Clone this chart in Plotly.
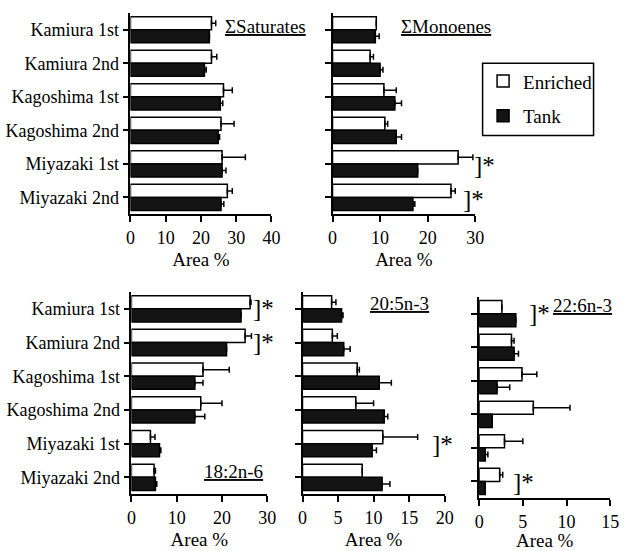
import plotly.graph_objects as go

W, H = 627, 551
FONT = "'Liberation Serif', 'Times New Roman', serif"

categories = ["Kamiura 1st", "Kamiura 2nd", "Kagoshima 1st", "Kagoshima 2nd", "Miyazaki 1st", "Miyazaki 2nd"]
series_names = ["Enriched", "Tank"]

# ΣSaturates
sat_enriched = [23.0, 23.0, 26.4, 25.7, 26.0, 27.5]
sat_enriched_err = [1.2, 1.5, 2.5, 3.7, 6.6, 1.4]
sat_tank = [22.4, 21.0, 25.5, 24.9, 26.0, 25.7]
sat_tank_err = [0.0, 0.5, 0.7, 0.4, 1.1, 0.8]

# ΣMonoenes
mono_enriched = [9.2, 7.9, 10.8, 11.0, 26.4, 24.9]
mono_enriched_err = [0.0, 0.7, 2.6, 0.6, 3.1, 0.9]
mono_tank = [9.0, 10.0, 13.1, 13.4, 17.9, 16.9]
mono_tank_err = [0.8, 0.6, 1.4, 1.1, 0.0, 0.4]

# 18:2n-6
la_enriched = [26.2, 25.1, 15.8, 15.3, 4.2, 5.0]
la_enriched_err = [0.2, 1.4, 5.8, 4.7, 1.0, 0.3]
la_tank = [24.2, 21.0, 14.0, 14.0, 6.2, 5.3]
la_tank_err = [0.0, 0.0, 1.8, 2.2, 0.3, 0.3]

# 20:5n-3
epa_enriched = [4.1, 4.2, 7.7, 7.5, 11.3, 8.4]
epa_enriched_err = [0.6, 0.7, 0.3, 2.5, 4.9, 0.0]
epa_tank = [5.5, 5.8, 10.8, 11.5, 9.8, 11.2]
epa_tank_err = [0.2, 0.9, 1.7, 0.5, 0.6, 1.1]

# 22:6n-3
dha_enriched = [2.6, 3.7, 4.9, 6.2, 2.9, 2.35]
dha_enriched_err = [0.0, 0.3, 1.7, 4.2, 2.1, 0.35]
dha_tank = [4.2, 4.0, 2.05, 1.5, 0.7, 0.7]
dha_tank_err = [0.0, 0.5, 1.45, 0.0, 0.3, 0.0]

panel_titles = ["ΣSaturates", "ΣMonoenes", "18:2n-6", "20:5n-3", "22:6n-3"]
x_ranges = [[0, 40], [0, 30], [0, 30], [0, 20], [0, 15]]
x_dticks = [10, 10, 10, 5, 5]
x_title = "Area %"

panels = [
    (sat_enriched, sat_enriched_err, sat_tank, sat_tank_err),
    (mono_enriched, mono_enriched_err, mono_tank, mono_tank_err),
    (la_enriched, la_enriched_err, la_tank, la_tank_err),
    (epa_enriched, epa_enriched_err, epa_tank, epa_tank_err),
    (dha_enriched, dha_enriched_err, dha_tank, dha_tank_err),
]

# layout (pixel boxes of each panel: left, right, top, bottom)
boxes = [
    (128.3, 272.5, 13, 215),
    (335, 481, 13, 215),
    (129.3, 268.3, 293, 496),
    (304.3, 449.7, 293, 496),
    (485, 619, 298, 500),
]


def px(x):
    return x / W


def py(y):
    return 1 - y / H


fig = go.Figure()
for i, (e, ee, t, te) in enumerate(panels):
    n = i + 1
    xa = "x" if n == 1 else f"x{n}"
    ya = "y" if n == 1 else f"y{n}"
    for name, vals, errs, fill in [("Enriched", e, ee, "white"), ("Tank", t, te, "#141414")]:
        fig.add_trace(go.Bar(
            y=categories, x=vals, orientation="h", name=name,
            marker=dict(color=fill, line=dict(color="black", width=1.5)),
            error_x=dict(type="data", symmetric=False, array=errs,
                         arrayminus=[0] * len(errs), color="black",
                         thickness=1.5, width=3),
            xaxis=xa, yaxis=ya, showlegend=(i == 0), legendgroup=name,
        ))

axis_common = dict(showline=True, linecolor="black", linewidth=1.5,
                   ticks="outside", tickcolor="black", tickwidth=1.5,
                   showgrid=False, zeroline=False,
                   tickfont=dict(family=FONT, size=18, color="black"))

layout = dict(
    width=W, height=H, margin=dict(l=0, r=0, t=0, b=0),
    paper_bgcolor="white", plot_bgcolor="white",
    barmode="group", bargap=0.22, bargroupgap=0,
    font=dict(family=FONT, size=18, color="black"),
    showlegend=True,
    legend=dict(x=px(489), y=py(62.5), xanchor="left", yanchor="top",
                borderwidth=0, bgcolor="rgba(0,0,0,0)",
                font=dict(family=FONT, size=19, color="black"),
                traceorder="grouped", tracegroupgap=7,
                itemwidth=30),
)

for i, (l, r, t, b) in enumerate(boxes):
    n = i + 1
    xk = "xaxis" if n == 1 else f"xaxis{n}"
    yk = "yaxis" if n == 1 else f"yaxis{n}"
    xa = "x" if n == 1 else f"x{n}"
    ya = "y" if n == 1 else f"y{n}"
    layout[xk] = dict(axis_common, domain=[px(l), px(r)], anchor=ya,
                      range=x_ranges[i], dtick=x_dticks[i], tick0=0, ticklen=6,
                      title=dict(text=x_title, standoff=6,
                                 font=dict(family=FONT, size=19, color="black")))
    layout[yk] = dict(axis_common, domain=[py(b), py(t)], anchor=xa,
                      type="category", categoryorder="array", categoryarray=categories,
                      range=[5.5, -0.5], ticklen=6,
                      showticklabels=(n in (1, 3)))

fig.update_layout(**layout)

# legend frame
fig.add_shape(type="rect", xref="paper", yref="paper",
              x0=px(488.5), x1=px(602), y0=py(136), y1=py(63.5),
              line=dict(color="black", width=1.5), fillcolor="rgba(0,0,0,0)", layer="above")

# panel titles (underlined)
title_pos = [(266, 27), (451, 27), (234, 473), (403, 305), (591, 307)]
for txt, (x, y) in zip(panel_titles, title_pos):
    fig.add_annotation(text=f"<u>{txt}</u>", x=px(x), y=py(y), xref="paper", yref="paper",
                       xanchor="center", yanchor="middle",
                       showarrow=False, font=dict(family=FONT, size=19, color="black"))

# significance marks
star_pos = [(490, 166), (479, 200), (264, 310), (264, 344), (448, 446), (547, 315), (530, 484)]
for x, y in star_pos:
    fig.add_annotation(text="]*", x=px(x), y=py(y), xref="paper", yref="paper",
                       xanchor="center", yanchor="middle",
                       showarrow=False, font=dict(family=FONT, size=25, color="black"))

fig.write_html("out.html")
